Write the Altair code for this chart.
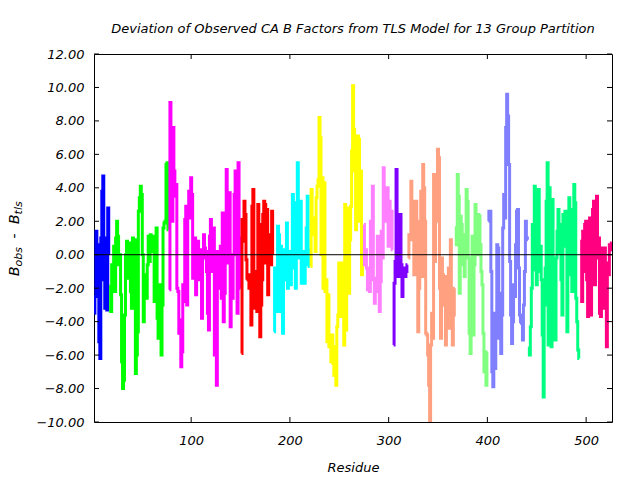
import altair as alt
import pandas as pd

# ---------------- data ----------------
group_names = ["Group 1", "Group 2", "Group 3", "Group 4", "Group 5", "Group 6", "Group 7",
               "Group 8", "Group 9", "Group 10", "Group 11", "Group 12", "Group 13"]
group_colors = ["#0000FF", "#00FF00", "#FF00FF", "#FF0000", "#00FFFF", "#FFFF00", "#FF80FF",
                "#8000FF", "#FFA080", "#80FF80", "#8080FF", "#00FF80", "#FF0080"]
group_first_residue = [2, 18, 78, 151, 184, 221, 275, 305, 320, 368, 401, 442, 494]

dev_g1 = [-3.5, -2.5, 1.4, 0.6, -1.9, -5.2, -6.2, 1.0, 3.8, 4.7, -1.5, -3.2, 1.0, -3.3, 2.8, 0.0]
dev_g2 = [-1.8, -3.4, -0.6, -1.5, 0.5, -2.2, 1.0, 2.0, 1.1, -0.6, 0.0, -2.4, -6.4, -8.0, -7.5,
          -3.6, 0.0, 0.8, -1.4, 0.7, -1.0, -2.2, -3.2, 1.0, -1.2, 0.9, -7.1, -6.0, -4.6, 2.6,
          3.4, 4.1, 3.6, 0.0, -4.0, -1.2, -1.3, -2.6, -0.6, 1.1, -0.4, 1.2, 0.4, 1.1, 0.2,
          -2.8, -1.0, 1.6, -3.8, -5.0, -2.0, -1.8, -6.0, -3.0, 1.6, 1.9, 2.0, 5.4, 5.5, 1.5]
dev_g3 = [-2.1, 9.1, 5.5, 2.0, 7.6, 5.0, 3.5, 4.2, -2.0, -2.2, -4.7, -3.9, -6.7, -5.8, -1.8,
          -2.8, 2.1, 2.9, -3.0, 2.9, 3.8, 2.2, 4.6, 3.6, -1.4, 0.5, 1.0, -2.4, -0.6, 0.8,
          -1.5, -1.5, 0.3, -3.8, -0.2, 1.2, 0.4, 0.2, -1.0, -3.5, -4.5, 1.1, 2.1, 1.6, -1.0,
          1.6, -6.0, -4.2, -7.8, 0.2, -2.0, -0.3, 0.5, -2.6, 2.5, -4.0, -2.3, 0.7, 5.1, -0.5,
          1.5, 3.7, -4.3, -1.5, -2.6, 0.0, 3.6, 5.0, 1.2, -3.5, 5.5, 1.0, -2.0]
dev_g4 = [-5.9, 2.1, 0.8, 3.2, 2.4, -0.3, -1.4, -1.5, -2.0, -1.2, -4.2, 2.9, 3.9, -2.5, -3.2,
          -1.0, -3.4, 3.0, 1.8, -4.9, -3.0, -1.5, 2.4, 3.2, 3.0, -0.5, 2.7, -2.4, 1.2, 0.5,
          -0.6, 2.6, 0.0]
dev_g5 = [-4.6, -0.8, -3.4, -1.2, 1.7, 1.2, -3.4, 0.5, -2.0, -4.7, -1.5, 0.3, -0.8, 1.9, -2.0,
          -0.3, 0.2, -1.8, -0.8, 3.6, 3.1, -0.4, -2.0, 2.0, 5.5, 2.3, -0.2, 3.2, -1.7, -0.4,
          0.2, -1.7, -0.6, 1.6, 3.5, 0.3, -0.7]
dev_g6 = [-0.7, 3.9, 1.2, 2.2, 1.8, 0.2, 3.4, 4.1, 4.5, 8.2, 7.0, 0.0, 4.6, -2.0, 4.3,
          -2.2, -1.5, -5.2, -2.4, -5.5, -5.0, -6.4, -4.8, -6.5, -7.2, -5.5, -7.8, -4.3, -3.6, -0.5,
          -3.7, -0.6, -2.0, -0.5, -5.4, 3.0, -4.5, 2.8, 1.2, -2.3, 0.9, 2.9, 6.2, 10.1, 7.5,
          5.0, 1.5, 2.5, 7.1, 6.9, 2.0, 5.0, -1.2, 0.5]
dev_g7 = [1.8, -0.6, 0.3, -0.8, -2.1, -0.9, -2.2, 2.0, 0.8, 4.1, -1.5, -2.9, -1.4, -2.2, 1.1,
          -1.6, -3.4, -1.6, 1.4, -0.2, 5.2, 2.5, 3.7, 2.0, 4.0, 0.5, 3.2, 1.0, 2.6, 0.3]
dev_g8 = [-5.4, -1.7, -0.4, 5.1, -0.7, -1.3, 1.4, 2.4, -0.6, -2.5, -1.1, -0.8, -1.3, -1.0, -0.6]
dev_g9 = [-0.2, 1.2, 0.9, 4.4, 3.2, 1.5, -1.2, 1.0, 3.2, 2.0, -4.6, -2.0, -0.8, 3.8, -1.3,
          5.4, 4.0, 2.0, -4.7, -4.8, -6.0, -7.8, -10.0, -5.4, -3.5, -5.0, 4.8, -0.4, 4.8, 2.0,
          6.3, 5.8, -2.0, -5.0, -0.2, -1.2, -1.6, -3.0, -5.4, -1.3, -4.4, -0.8, -0.9, 0.9, -4.4,
          -5.4, -3.6, -2.0]
dev_g10 = [1.7, 0.6, 4.8, 3.5, -2.3, 2.3, 1.8, -0.6, 1.2, -1.3, 1.2, 3.9, 3.2, -0.2, -4.7,
           -5.9, -2.8, 1.1, -4.8, -0.6, 3.0, 2.0, 0.0, 2.4, 2.3, 0.6, -1.0, -1.8, -4.7, -7.0,
           -6.2, -7.8, -5.8]
dev_g11 = [2.0, 2.6, 2.6, -1.0, -7.0, -7.9, -3.5, -6.8, -5.0, 0.6, 0.4, -2.3, -5.0, -5.9, -3.6,
           1.6, 3.6, 2.2, 7.6, 9.6, 8.3, 5.4, -0.4, -3.6, -5.3, -4.0, -1.8, -2.5, 0.6, 2.6,
           2.7, -0.8, -3.6, -4.0, -4.1, -5.1, -3.0, -1.0, 2.0, 1.0, 0.9]
dev_g12 = [-5.5, -6.0, -4.3, -2.0, 1.8, -0.9, 4.1, 1.0, -1.8, 2.0, 3.9, -1.0, 0.5, -1.5, -4.8,
           -8.5, -3.0, -0.8, 3.2, 5.5, -5.4, 4.0, -1.5, -5.5, 3.3, -1.1, -2.8, -5.1, -0.2, 1.4,
           2.7, 1.8, 0.1, -1.5, -3.6, 2.4, 0.5, 2.6, 0.7, -4.6, -1.0, 3.4, 2.7, -1.2, -2.2,
           1.0, 4.2, 3.1, -2.6, -4.0, -5.7, -6.2]
dev_g13 = [0.8, 0.8, -2.8, 1.4, -1.0, 1.8, 2.0, -1.5, -3.7, -0.4, 2.2, -3.6, 0.5, 2.7, 3.2,
           -1.8, 2.1, 3.5, -0.2, 1.0, -3.5, -3.7, -0.6, 0.4, -3.2, 0.4, -0.5, -5.5, -0.8, -1.2,
           0.6, 0.3, 0.7]

group_values = [dev_g1, dev_g2, dev_g3, dev_g4, dev_g5, dev_g6, dev_g7,
                dev_g8, dev_g9, dev_g10, dev_g11, dev_g12, dev_g13]

x_ticks = [100, 200, 300, 400, 500]
y_ticks = [-10, -8, -6, -4, -2, 0, 2, 4, 6, 8, 10, 12]

rows = []
for name, first, vals in zip(group_names, group_first_residue, group_values):
    for i, v in enumerate(vals):
        rows.append({"group": name, "residue": first + i, "dev": v})
df = pd.DataFrame(rows)

# ---------------- chart ----------------
W, H = 518, 368
FONT = "DejaVu Sans"
xs = alt.Scale(domain=[1.6, 526.2], nice=False, zero=False)
ys = alt.Scale(domain=[-10, 12], nice=False, zero=False)
x_axis = alt.Axis(values=x_ticks, format="d", ticks=False, domain=False, grid=False,
                  labelPadding=12, title="Residue", titlePadding=14)
y_axis = alt.Axis(values=y_ticks, format=".2f", ticks=False, domain=False, grid=False,
                  labelPadding=10, title=None)

def X(field="residue"):
    return alt.X(f"{field}:Q", scale=xs, axis=x_axis, title="Residue")

def Y(field="dev"):
    return alt.Y(f"{field}:Q", scale=ys, axis=y_axis, title=None)

lines = alt.Chart(df).mark_line(interpolate="step", strokeWidth=3, clip=True, strokeJoin="miter").encode(
    x=X(), y=Y(),
    color=alt.Color("group:N", scale=alt.Scale(domain=group_names, range=group_colors), legend=None),
)

zero_df = pd.DataFrame({"dev": [0]})
zero = alt.Chart(zero_df).mark_rule(color="black", strokeWidth=1).encode(y=Y())

xt_df = pd.DataFrame({"residue": x_ticks})
yt_df = pd.DataFrame({"dev": y_ticks})
xt_bottom = alt.Chart(xt_df).mark_rule(color="black", strokeWidth=1).encode(
    x=X(), y=alt.value(H), y2=alt.value(H - 5))
xt_top = alt.Chart(xt_df).mark_rule(color="black", strokeWidth=1).encode(
    x=X(), y=alt.value(0), y2=alt.value(5))
yt_left = alt.Chart(yt_df).mark_rule(color="black", strokeWidth=1).encode(
    y=Y(), x=alt.value(0), x2=alt.value(5))
yt_right = alt.Chart(yt_df).mark_rule(color="black", strokeWidth=1).encode(
    y=Y(), x=alt.value(W - 5), x2=alt.value(W))

# y-axis title with subscripts: B_obs - B_tls
one = pd.DataFrame({"k": [0]})
def ytext(txt, x, y, size):
    return alt.Chart(one).mark_text(text=txt, angle=270, align="left", baseline="alphabetic",
                                    font=FONT, fontStyle="italic", fontSize=size, color="black").encode(
        x=alt.value(x), y=alt.value(y))

ytitle = [
    ytext("B", -75, 222, 14),
    ytext("obs", -72, 212.4, 11),
    ytext("-", -75, 184.4, 14),
    ytext("B", -75, 170, 14),
    ytext("tls", -72, 160.4, 11),
]

chart = alt.layer(lines, zero, xt_bottom, xt_top, yt_left, yt_right, *ytitle).properties(
    width=W, height=H,
    title=alt.TitleParams("Deviation of Observed CA B Factors from TLS Model for 13 Group Partition",
                          frame="group", baseline="alphabetic", offset=2),
    padding={"left": 94, "top": 54, "right": 28, "bottom": 58},
    autosize=alt.AutoSizeParams(type="none"),
).configure_view(
    stroke="black", strokeWidth=1
).configure_axis(
    labelFont=FONT, labelFontStyle="italic", labelFontSize=13, labelColor="black",
    titleFont=FONT, titleFontStyle="italic", titleFontWeight="normal", titleFontSize=13,
    titleColor="black"
).configure_title(
    font=FONT, fontStyle="italic", fontSize=13, fontWeight="normal", anchor="middle", color="black"
)

chart.save("out.html", embed_options={"renderer": "svg", "actions": False})
